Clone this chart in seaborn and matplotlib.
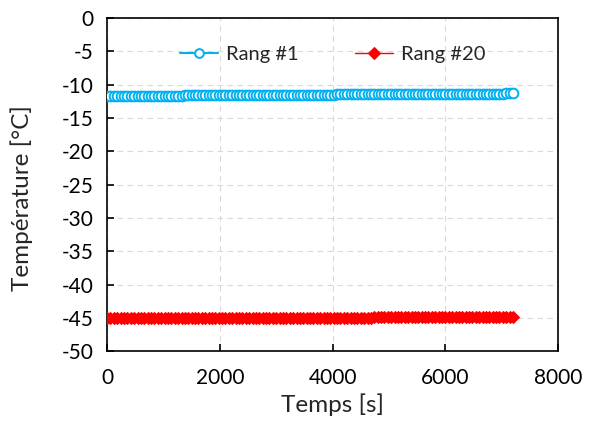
import numpy as np
import pandas as pd
import seaborn as sns
import matplotlib
matplotlib.use('Agg')
import matplotlib.pyplot as plt

# time samples every 60 s, 0 -> 7200 s
temps = list(range(0, 7201, 60))

rang_1 = [
    -11.70, -11.70, -11.69, -11.69, -11.69, -11.68, -11.68, -11.68, -11.67, -11.67,
    -11.67, -11.66, -11.66, -11.66, -11.65, -11.65, -11.65, -11.64, -11.64, -11.64,
    -11.63, -11.63, -11.63, -11.62, -11.62, -11.62, -11.61, -11.61, -11.61, -11.60,
    -11.60, -11.60, -11.59, -11.59, -11.59, -11.58, -11.58, -11.58, -11.57, -11.57,
    -11.57, -11.56, -11.56, -11.56, -11.55, -11.55, -11.55, -11.54, -11.54, -11.54,
    -11.53, -11.53, -11.53, -11.52, -11.52, -11.52, -11.51, -11.51, -11.51, -11.50,
    -11.50, -11.50, -11.49, -11.49, -11.49, -11.48, -11.48, -11.48, -11.47, -11.47,
    -11.47, -11.46, -11.46, -11.46, -11.45, -11.45, -11.45, -11.44, -11.44, -11.44,
    -11.43, -11.43, -11.43, -11.42, -11.42, -11.42, -11.41, -11.41, -11.41, -11.40,
    -11.40, -11.40, -11.39, -11.39, -11.39, -11.38, -11.38, -11.38, -11.37, -11.37,
    -11.37, -11.37, -11.36, -11.36, -11.36, -11.36, -11.35, -11.35, -11.35, -11.35,
    -11.34, -11.34, -11.34, -11.34, -11.33, -11.33, -11.33, -11.33, -11.32, -11.32,
    -11.32,
]

rang_20 = [
    -45.10, -45.10, -45.10, -45.10, -45.09, -45.09, -45.09, -45.09, -45.09, -45.08,
    -45.08, -45.08, -45.08, -45.08, -45.07, -45.07, -45.07, -45.07, -45.07, -45.06,
    -45.06, -45.06, -45.06, -45.06, -45.05, -45.05, -45.05, -45.05, -45.05, -45.04,
    -45.04, -45.04, -45.04, -45.04, -45.03, -45.03, -45.03, -45.03, -45.03, -45.02,
    -45.02, -45.02, -45.02, -45.02, -45.01, -45.01, -45.01, -45.01, -45.01, -45.00,
    -45.00, -45.00, -45.00, -45.00, -45.00, -44.99, -44.99, -44.99, -44.99, -44.99,
    -44.99, -44.98, -44.98, -44.98, -44.98, -44.98, -44.98, -44.97, -44.97, -44.97,
    -44.97, -44.97, -44.97, -44.96, -44.96, -44.96, -44.96, -44.96, -44.96, -44.95,
    -44.95, -44.95, -44.95, -44.95, -44.95, -44.94, -44.94, -44.94, -44.94, -44.94,
    -44.94, -44.93, -44.93, -44.93, -44.93, -44.93, -44.93, -44.92, -44.92, -44.92,
    -44.92, -44.92, -44.91, -44.91, -44.91, -44.90, -44.90, -44.90, -44.89, -44.89,
    -44.89, -44.88, -44.88, -44.87, -44.87, -44.86, -44.86, -44.85, -44.85, -44.84,
    -44.84,
]

x_ticks = [0, 2000, 4000, 6000, 8000]
y_ticks = [0, -5, -10, -15, -20, -25, -30, -35, -40, -45, -50]

sns.set_style('ticks')
plt.rcParams['font.family'] = ['Lato', 'DejaVu Sans']
plt.rcParams['axes.unicode_minus'] = False  # plain hyphen like Excel

df = pd.DataFrame({'temps': temps, 'r1': rang_1, 'r20': rang_20})

fig = plt.figure(figsize=(5.95, 4.21), dpi=100)
ax = fig.add_axes([0.180, 0.166, 0.758, 0.791])

sns.lineplot(data=df, x='temps', y='r1', ax=ax, color='#00B0F0', linewidth=1.5,
             marker='o', markersize=7, markerfacecolor='white',
             markeredgecolor='#00B0F0', markeredgewidth=1.4, label='Rang #1', zorder=3)
sns.lineplot(data=df, x='temps', y='r20', ax=ax, color='#FF0000', linewidth=1.0,
             marker='D', markersize=6.5, markerfacecolor='#FF0000',
             markeredgecolor='#FF0000', label='Rang #20', zorder=3)

ax.set_xlim(0, 8000)
ax.set_ylim(-50, 0)
ax.set_xticks(x_ticks)
ax.set_yticks(y_ticks)

# Excel-like dashed grid
ax.grid(True, linestyle=(0, (5, 4)), color='#d9d9d9', linewidth=0.8)
ax.set_axisbelow(True)

for side in ['left', 'right', 'top', 'bottom']:
    ax.spines[side].set_color('black')
    ax.spines[side].set_linewidth(1.2)

ax.tick_params(direction='in', length=5, width=1.2, labelsize=15, colors='black')
ax.tick_params(axis='y', pad=10)
ax.tick_params(axis='x', pad=12)
ax.set_xlabel('Temps [s]', fontsize=17.5, labelpad=4)
ax.set_ylabel('Température [°C]', fontsize=17.5)
ax.yaxis.set_label_coords(-0.164, 0.46)

ax.legend(loc='center', bbox_to_anchor=(0.5, 0.892), ncol=2, frameon=False,
          fontsize=14.5, handlelength=1.9, columnspacing=2.8, handletextpad=0.4,
          markerscale=0.9)

plt.savefig('out.png', dpi=100)
plt.close()
